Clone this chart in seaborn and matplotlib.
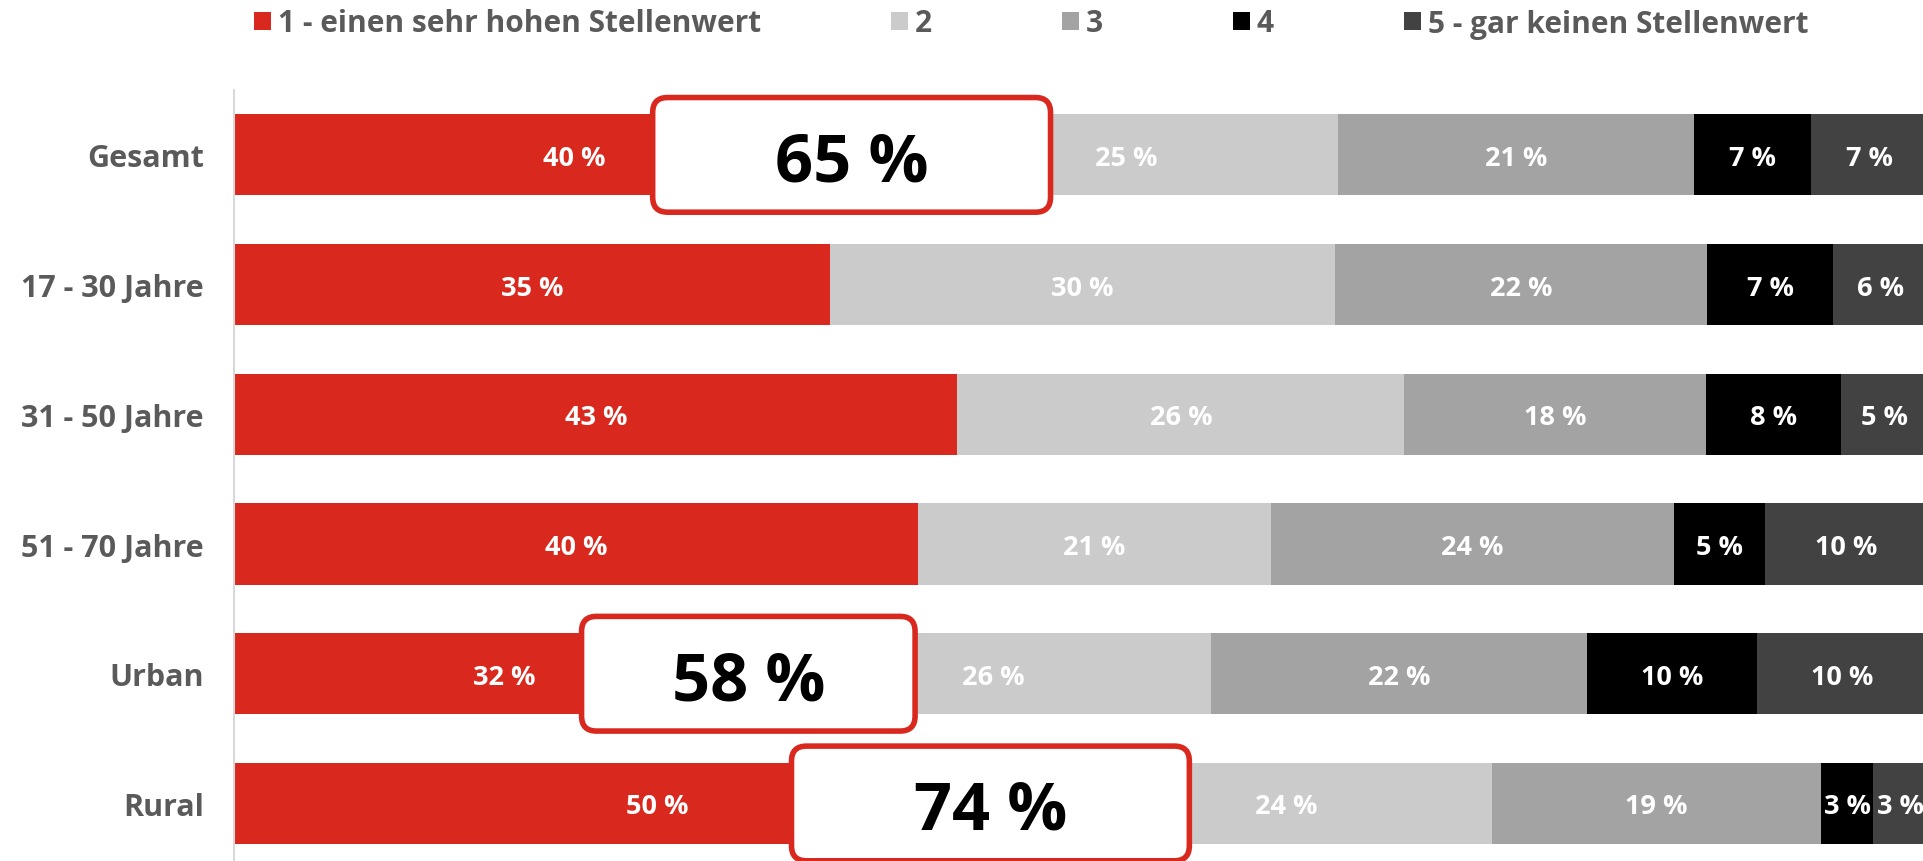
import matplotlib
matplotlib.use("Agg")
import matplotlib.pyplot as plt
from matplotlib.patches import Patch, FancyBboxPatch
import seaborn as sns
import pandas as pd
import numpy as np

groups = ["Gesamt", "17 - 30 Jahre", "31 - 50 Jahre", "51 - 70 Jahre", "Urban", "Rural"]
levels = ["1 - einen sehr hohen Stellenwert", "2", "3", "4", "5 - gar keinen Stellenwert"]

# shares in % per answer level
share_1 = [40.1, 35.2, 42.7, 40.4, 31.9, 49.9]
share_2 = [25.1, 29.8, 26.4, 20.8, 25.8, 24.4]
share_3 = [21.0, 22.0, 17.8, 23.8, 22.2, 19.4]
share_4 = [6.9, 7.4, 8.0, 5.4, 10.0, 3.1]
share_5 = [6.9, 5.6, 5.1, 9.6, 10.1, 3.2]

colors = ["#d9281e", "#cbcbcb", "#a3a3a3", "#000000", "#424242"]
text_grey = "#5a5a5a"

# callout boxes (top-2 sum), span along the x axis in %
callout_groups = ["Gesamt", "Urban", "Rural"]
callout_left = [24.7, 20.5, 32.9]
callout_right = [48.2, 40.2, 56.4]

W, H = 1924, 862
sns.set_style("white")
plt.rcParams["font.family"] = ["Open Sans", "DejaVu Sans"]
weight = "bold"

fig = plt.figure(figsize=(W / 100, H / 100), dpi=100)
ax = fig.add_axes([234.5 / W, -7.3 / H, 1693 / W, 778.3 / H])

shares = [share_1, share_2, share_3, share_4, share_5]
df = pd.DataFrame({"group": groups})
for lvl, s in zip(levels, shares):
    df[lvl] = s
cum = df[levels].cumsum(axis=1)

# stacked bars: draw cumulative totals back to front
for k in range(len(levels) - 1, -1, -1):
    layer = pd.DataFrame({"group": groups, "value": cum[levels[k]]})
    sns.barplot(data=layer, x="value", y="group", order=groups, orient="h",
                color=colors[k], saturation=1, width=0.625, linewidth=0,
                errorbar=None, ax=ax)

ax.set_xlim(0, 100)
ax.set_ylim(5.5, -0.5)
ax.set_xlabel("")
ax.set_ylabel("")
ax.set_xticks([])
for side in ["top", "right", "bottom"]:
    ax.spines[side].set_visible(False)
ax.spines["left"].set_color("#d9d9d9")
ax.spines["left"].set_linewidth(1.5)
ax.tick_params(axis="y", length=0, pad=22, labelsize=22, labelcolor=text_grey)
for lab in ax.get_yticklabels():
    lab.set_fontweight(weight)

# segment labels
for k, lvl in enumerate(levels):
    for i, g in enumerate(groups):
        v = df.loc[i, lvl]
        ax.text(cum.loc[i, lvl] - v / 2, i, f"{round(v)} %", ha="center", va="center_baseline",
                color="white", fontsize=19.5, fontweight=weight, zorder=4)

# callout boxes with the sum of levels 1 and 2
px_x = ax.get_position().width * W / 100
px_y = ax.get_position().height * H / 6
aspect = px_x / px_y
half = 0.442
for g, x0, x1 in zip(callout_groups, callout_left, callout_right):
    i = groups.index(g)
    box = FancyBboxPatch((x0, i - half), x1 - x0, 2 * half,
                         boxstyle=f"round,pad=0,rounding_size={15 / px_x:.3f}",
                         mutation_aspect=aspect, facecolor="white",
                         edgecolor=colors[0], linewidth=4, zorder=5, clip_on=False)
    ax.add_patch(box)
    top2 = df.loc[i, levels[0]] + df.loc[i, levels[1]]
    ax.text((x0 + x1) / 2, i, f"{round(top2)} %", ha="center", va="center_baseline",
            fontsize=48, fontweight=weight, color="black", zorder=6)

handles = [Patch(facecolor=c, edgecolor="none") for c in colors]
fig.legend(handles, levels, loc="center left", bbox_to_anchor=(254 / W, 1 - 24.5 / H),
           ncol=5, frameon=False, prop={"size": 21.5, "weight": weight},
           labelcolor=text_grey, handlelength=0.57, handleheight=0.57,
           handletextpad=0.23, columnspacing=4.35, borderpad=0, borderaxespad=0)

fig.savefig("out.png", dpi=100)
